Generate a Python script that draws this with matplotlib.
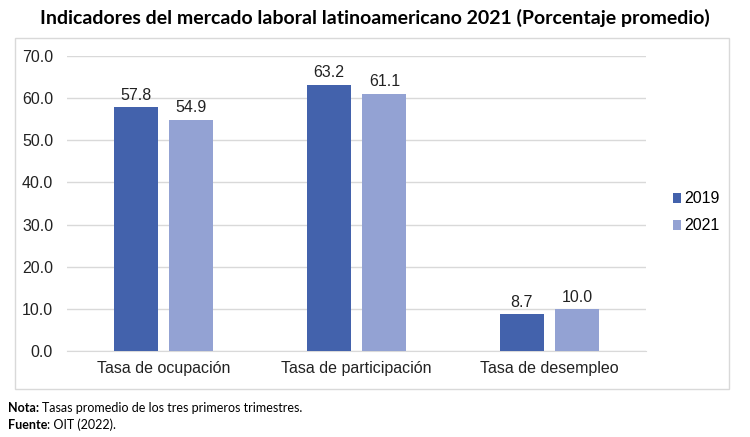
import numpy as np
import matplotlib
matplotlib.use('Agg')
import matplotlib.pyplot as plt
from matplotlib.patches import Rectangle

categorias = ['Tasa de ocupación', 'Tasa de participación', 'Tasa de desempleo']
valores_2019 = [57.8, 63.2, 8.7]
valores_2021 = [54.9, 61.1, 10.0]
series = ['2019', '2021']
y_ticks = [0, 10, 20, 30, 40, 50, 60, 70]

color_2019 = '#4362ac'
color_2021 = '#93a2d3'

plt.rcParams['font.family'] = ['Liberation Sans', 'DejaVu Sans']

fig = plt.figure(figsize=(7.5, 4.37), dpi=100)

# marco exterior del grafico
fig.patches.append(Rectangle((15 / 750, 1 - 389 / 437), 714 / 750, 351 / 437,
                             transform=fig.transFigure, fill=False,
                             edgecolor='#d9d9d9', linewidth=1))

ax = fig.add_axes([67 / 750, 1 - 351 / 437, 579 / 750, 295 / 437])

x = np.arange(len(categorias))
ancho = 0.228
desp = 0.145
b1 = ax.bar(x - desp, valores_2019, ancho, color=color_2019, label=series[0], zorder=3)
b2 = ax.bar(x + desp, valores_2021, ancho, color=color_2021, label=series[1], zorder=3)

for barras in (b1, b2):
    ax.bar_label(barras, fmt='%.1f', padding=3, fontsize=11.5, color='#222222')

ax.set_xlim(-0.5, len(categorias) - 0.5)
ax.set_ylim(0, 70)
ax.set_yticks(y_ticks)
ax.set_yticklabels(['%.1f' % v for v in y_ticks], fontsize=11.5, color='#222222')
ax.set_xticks(x)
ax.set_xticklabels(categorias, fontsize=11.5, color='#222222')
ax.tick_params(axis='both', length=0)
ax.tick_params(axis='y', pad=10)
ax.tick_params(axis='x', pad=7)
ax.yaxis.grid(True, color='#d9d9d9', linewidth=1, zorder=0)
for s in ['top', 'right', 'left']:
    ax.spines[s].set_visible(False)
ax.spines['bottom'].set_color('#d9d9d9')

ax.legend(loc='center left', bbox_to_anchor=(1.035, 0.47), frameon=False,
          fontsize=11.5, handlelength=0.55, handleheight=0.55,
          handletextpad=0.2, labelspacing=0.75, borderaxespad=0)

fig.text(0.5, 1 - 18 / 437, 'Indicadores del mercado laboral latinoamericano 2021 (Porcentaje promedio)',
         ha='center', va='center', fontsize=14, fontweight='bold', family='Lato')

# notas al pie: parte en negrita + resto normal
fig.canvas.draw()
r = fig.canvas.get_renderer()
t1 = fig.text(8 / 750, 1 - 408 / 437, 'Nota:', ha='left', va='center',
              fontsize=9, family='Lato', fontweight='bold')
bb = t1.get_window_extent(r)
fig.text((bb.x1 + 3) / 750, 1 - 408 / 437, 'Tasas promedio de los tres primeros trimestres.',
         ha='left', va='center', fontsize=9, family='Lato')
t2 = fig.text(8 / 750, 1 - 425 / 437, 'Fuente', ha='left', va='center',
              fontsize=9, family='Lato', fontweight='bold')
bb2 = t2.get_window_extent(r)
fig.text(bb2.x1 / 750, 1 - 425 / 437, ': OIT (2022).', ha='left', va='center',
         fontsize=9, family='Lato')

fig.savefig('out.png', dpi=100)
